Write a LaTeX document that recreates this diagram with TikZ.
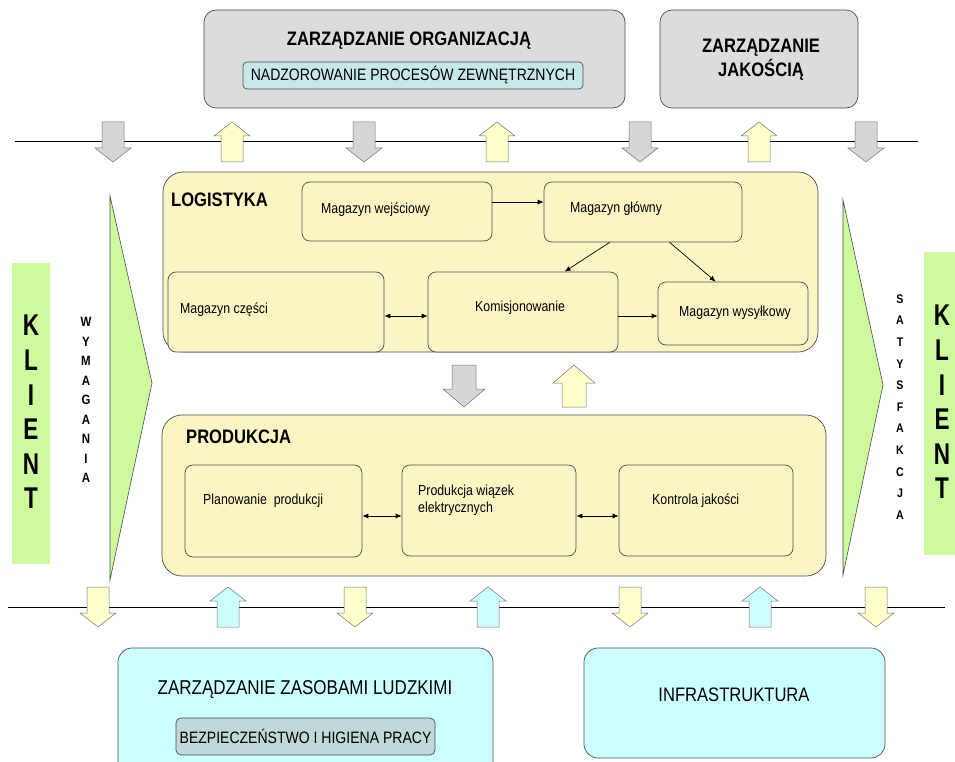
\documentclass[tikz,border=0pt]{standalone}
\usepackage{fontspec}
\setmainfont{Liberation Sans}
\newfontfamily\nar{Liberation Sans}[FakeStretch=0.85]
\newfontfamily\narr{Liberation Sans}[FakeStretch=0.75]
\usetikzlibrary{arrows.meta,calc}
\definecolor{boxgray}{HTML}{DCDCDC}
\definecolor{arrgray}{HTML}{D6D6D6}
\definecolor{incyan}{HTML}{C6E8E8}
\definecolor{lyellow}{HTML}{FAF6C4}
\definecolor{ayellow}{HTML}{FFFFCC}
\definecolor{lcyan}{HTML}{CCFFFF}
\definecolor{bhp}{HTML}{BFD8D8}
\definecolor{lgreen}{HTML}{CCFA9C}
\tikzset{
  rbox/.style={draw=black!70, line width=0.7pt, rounded corners=#1, inner sep=0pt},
  rbox/.default=10pt,
  arrline/.style={draw=black!55, line width=0.5pt},
  conn/.style={draw=black, line width=0.7pt, -{Latex[length=6pt,width=5pt]}},
  bconn/.style={draw=black, line width=0.7pt, {Latex[length=6pt,width=5pt]}-{Latex[length=6pt,width=5pt]}},
  txt/.style={inner sep=0pt, font=\nar\fontsize{14.5}{17}\selectfont, anchor=west},
  head/.style={inner sep=0pt, font=\nar\bfseries\fontsize{19.5}{24}\selectfont},
  pics/darr/.style={code={\draw[arrline, fill=#1] (-11,0) -- (11,0) -- (11,26) -- (18,26) -- (0,40) -- (-18,26) -- (-11,26) -- cycle;}},
  pics/uarr/.style={code={\draw[arrline, fill=#1] (-11,40) -- (11,40) -- (11,14) -- (18,14) -- (0,0) -- (-18,14) -- (-11,14) -- cycle;}},
  pics/bdarr/.style={code={\draw[arrline, fill=#1] (-12,0) -- (12,0) -- (12,24) -- (21,24) -- (0,42) -- (-21,24) -- (-12,24) -- cycle;}},
  pics/buarr/.style={code={\draw[arrline, fill=#1] (-12,42) -- (12,42) -- (12,18) -- (21,18) -- (0,0) -- (-21,18) -- (-12,18) -- cycle;}},
}
\newcommand{\bx}[6]{\node[#6, minimum width={(#4)-(#2)}, minimum height={(#5)-(#3)}] (#1) at ({((#2)+(#4))/2},{((#3)+(#5))/2}) {};}
\begin{document}
\begin{tikzpicture}[x=1pt,y=-1pt]
\useasboundingbox (0,0) rectangle (955,762);
\clip (0,0) rectangle (955,762);
\fill[white] (0,0) rectangle (955,762);

% top boxes
\bx{zo}{204}{10}{625}{108}{rbox=12pt, fill=boxgray}
\bx{nad}{243}{62}{583}{89}{rbox=4pt, fill=incyan}
\node[head] (zot) at (409,41) {ZARZĄDZANIE ORGANIZACJĄ};
\node[inner sep=0pt, font=\nar\fontsize{16.5}{19}\selectfont] (nadt) at (nad) {NADZOROWANIE PROCESÓW ZEWNĘTRZNYCH};
\bx{zj}{660}{10}{858}{108}{rbox=12pt, fill=boxgray}
\node[head, align=center, font=\nar\bfseries\fontsize{19.5}{24}\selectfont] (zjt) at (761,60) {ZARZĄDZANIE\\JAKOŚCIĄ};

% top line and arrows
\coordinate (tl1) at (15,142); \coordinate (tl2) at (918,142);
\draw[line width=1pt] (tl1) -- (tl2);
\pic at (113,122) {darr=arrgray};
\pic at (232,122) {uarr=ayellow};
\pic at (364,122) {darr=arrgray};
\pic at (497,122) {uarr=ayellow};
\pic at (640,122) {darr=arrgray};
\pic at (759,122) {uarr=ayellow};
\pic at (866,122) {darr=arrgray};

% green side arrows
\coordinate (lt1) at (110,196); \coordinate (lt2) at (152,383); \coordinate (lt3) at (110,580);
\draw[fill=lgreen, draw=black!70, line width=0.6pt] (lt1) -- (lt2) -- (lt3) -- cycle;
\coordinate (rt1) at (843,200); \coordinate (rt2) at (883,385); \coordinate (rt3) at (843,575);
\draw[fill=lgreen, draw=black!70, line width=0.6pt] (rt1) -- (rt2) -- (rt3) -- cycle;

% KLIENT bars
\bx{kl}{12}{263}{50}{564}{fill=lgreen, inner sep=0pt}
\node[inner sep=0pt, align=center, font=\narr\bfseries\fontsize{30}{34.6}\selectfont] (klt) at (31,412) {K\\L\\I\\E\\N\\T};
\bx{kr}{924}{252}{960}{555}{fill=lgreen, inner sep=0pt}
\node[inner sep=0pt, align=center, font=\narr\bfseries\fontsize{30}{34.6}\selectfont] (krt) at (942,402) {K\\L\\I\\E\\N\\T};
\node[inner sep=0pt, align=center, font=\nar\bfseries\fontsize{13.5}{19.5}\selectfont] (wym) at (86,400) {W\\Y\\M\\A\\G\\A\\N\\I\\A};
\node[inner sep=0pt, align=center, font=\nar\bfseries\fontsize{12.5}{21.6}\selectfont] (sat) at (900,407) {S\\A\\T\\Y\\S\\F\\A\\K\\C\\J\\A};

% LOGISTYKA
\bx{log}{163}{172}{818}{352}{rbox=20pt, fill=lyellow}
\node[head, anchor=west] (logt) at (171,200) {LOGISTYKA};
\bx{wej}{302}{182}{492}{241}{rbox=8pt, fill=lyellow}
\bx{gl}{544}{182}{742}{242}{rbox=8pt, fill=lyellow}
\bx{cz}{168}{272}{384}{352}{rbox=8pt, fill=lyellow}
\bx{kom}{428}{272}{618}{352}{rbox=8pt, fill=lyellow}
\bx{wys}{658}{282}{808}{345}{rbox=8pt, fill=lyellow}
\node[txt] (wejt) at (321,210) {Magazyn wejściowy};
\node[txt] (glt) at (570,209) {Magazyn główny};
\node[txt] (czt) at (180,310) {Magazyn części};
\node[txt] (komt) at (475,308) {Komisjonowanie};
\node[txt] (wyst) at (679,313) {Magazyn wysyłkowy};
\coordinate (r202) at (0,202);
\draw[conn] (wej.east |- r202) -- (gl.west |- r202);
\draw[conn] ($(gl.south west)+(66,0)$) -- ($(kom.north west)+(137,0)$);
\draw[conn] ($(gl.south west)+(126,0)$) -- ($(wys.north west)+(58,0)$);
\coordinate (r316) at (0,316);
\draw[bconn] (cz.east |- r316) -- (kom.west |- r316);
\draw[conn] (kom.east |- r316) -- (wys.west |- r316);

% middle arrows
\pic at (464,365) {bdarr=arrgray};
\pic at (574,365) {buarr=ayellow};

% PRODUKCJA
\bx{prod}{162}{415}{826}{576}{rbox=20pt, fill=lyellow}
\node[head, anchor=west] (prodt) at (186,437) {PRODUKCJA};
\bx{plan}{185}{465}{362}{557}{rbox=8pt, fill=lyellow}
\bx{pw}{402}{465}{576}{556}{rbox=8pt, fill=lyellow}
\bx{kj}{619}{465}{793}{556}{rbox=8pt, fill=lyellow}
\node[txt] (plant) at (203,501) {Planowanie\ \ produkcji};
\node[txt, align=left] (pwt) at (418,500) {Produkcja wiązek\\elektrycznych};
\node[txt] (kjt) at (652,501) {Kontrola jakości};
\coordinate (r516) at (0,516);
\draw[bconn] (plan.east |- r516) -- (pw.west |- r516);
\draw[bconn] (pw.east |- r516) -- (kj.west |- r516);

% bottom line and arrows
\coordinate (bl1) at (8,607); \coordinate (bl2) at (945,607);
\draw[line width=1pt] (bl1) -- (bl2);
\pic at (98,587) {darr=ayellow};
\pic at (228,587) {uarr=lcyan};
\pic at (355,587) {darr=ayellow};
\pic at (488,587) {uarr=lcyan};
\pic at (630,587) {darr=ayellow};
\pic at (760,587) {uarr=lcyan};
\pic at (876,587) {darr=ayellow};

% bottom boxes
\bx{zzl}{118}{648}{493}{780}{rbox=14pt, fill=lcyan}
\node[inner sep=0pt, font=\nar\fontsize{20}{24}\selectfont] (zzlt) at (305,690) {ZARZĄDZANIE ZASOBAMI LUDZKIMI};
\bx{bh}{176}{718}{435}{755}{rbox=5pt, fill=bhp}
\node[inner sep=0pt, font=\nar\fontsize{16.5}{19}\selectfont] (bht) at (bh) {BEZPIECZEŃSTWO I HIGIENA PRACY};
\bx{inf}{584}{648}{885}{758}{rbox=14pt, fill=lcyan}
\node[inner sep=0pt, font=\nar\fontsize{19.5}{22}\selectfont] (inft) at (734,695) {INFRASTRUKTURA};
\end{tikzpicture}
\end{document}
